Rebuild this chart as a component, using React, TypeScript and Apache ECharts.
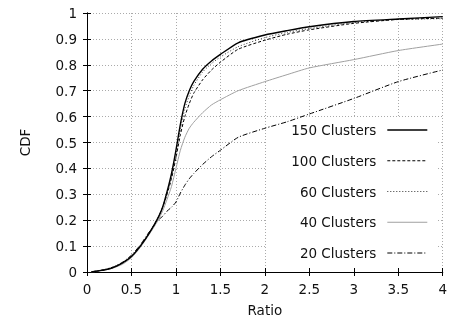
import React, { useEffect, useRef } from "react";
import * as echarts from "echarts";

const ratio = [0.05, 0.1, 0.2, 0.3, 0.4, 0.5, 0.6, 0.7, 0.8, 0.85, 0.9, 0.95, 1.0, 1.05, 1.1, 1.15, 1.2, 1.3, 1.4, 1.5, 1.7, 2.0, 2.25, 2.5, 3.0, 3.5, 4.0];

const cdf150 = [0, 0.003, 0.008, 0.018, 0.035, 0.06, 0.1, 0.15, 0.21, 0.25, 0.31, 0.38, 0.47, 0.57, 0.65, 0.7, 0.735, 0.783, 0.815, 0.84, 0.885, 0.915, 0.932, 0.947, 0.967, 0.977, 0.986];
const cdf100 = [0, 0.003, 0.008, 0.018, 0.035, 0.06, 0.1, 0.15, 0.21, 0.25, 0.3, 0.36, 0.44, 0.53, 0.6, 0.65, 0.69, 0.742, 0.78, 0.81, 0.86, 0.895, 0.918, 0.935, 0.96, 0.975, 0.98];
const cdf60 = [0, 0.003, 0.009, 0.02, 0.037, 0.062, 0.1, 0.15, 0.21, 0.25, 0.3, 0.37, 0.45, 0.55, 0.63, 0.68, 0.72, 0.772, 0.805, 0.83, 0.87, 0.905, 0.925, 0.94, 0.963, 0.975, 0.978];
const cdf40 = [0, 0.002, 0.007, 0.016, 0.03, 0.055, 0.095, 0.145, 0.2, 0.235, 0.28, 0.33, 0.4, 0.47, 0.52, 0.555, 0.578, 0.615, 0.645, 0.665, 0.7, 0.735, 0.762, 0.788, 0.82, 0.855, 0.88];
const cdf20 = [0, 0.004, 0.01, 0.02, 0.038, 0.065, 0.105, 0.155, 0.2, 0.215, 0.235, 0.25, 0.27, 0.305, 0.335, 0.36, 0.38, 0.415, 0.445, 0.47, 0.52, 0.555, 0.58, 0.61, 0.67, 0.735, 0.78];

const seriesNames = ["150 Clusters", "100 Clusters", "60 Clusters", "40 Clusters", "20 Clusters"];

const FONT = "DejaVu Sans";
const FS = 13.5;

export default function App() {
  const ref = useRef<HTMLDivElement>(null);
  useEffect(() => {
    if (!ref.current) return;
    const chart = echarts.init(ref.current, undefined, { renderer: "svg" });
    const pts = (ys: number[]) => ratio.map((x, i) => [x, ys[i]]);
    const styles: any[] = [
      { color: "#000", width: 1.4, type: "solid" },
      { color: "#000", width: 1, type: [3, 2] },
      { color: "#333", width: 1, type: [1, 2] },
      { color: "#a0a0a0", width: 1, type: "solid" },
      { color: "#000", width: 1, type: [5, 2, 1, 2] },
    ];
    const data = [cdf150, cdf100, cdf60, cdf40, cdf20];
    const tick = { show: true, inside: true, length: 4, lineStyle: { color: "#000" } };
    const axisLine = { show: true, lineStyle: { color: "#000", width: 1 } };
    const split = { show: true, lineStyle: { color: "#aaa", type: [1, 2], width: 1 } };
    chart.setOption({
      animation: false,
      textStyle: { fontFamily: FONT },
      grid: { left: 87, right: 5, top: 13, bottom: 49, containLabel: false },
      xAxis: [
        {
          type: "value", min: 0, max: 4, interval: 0.5,
          name: "Ratio", nameLocation: "middle", nameGap: 31,
          nameTextStyle: { fontFamily: FONT, fontSize: FS, color: "#111" },
          axisLine, axisTick: tick, splitLine: split,
          axisLabel: { fontFamily: FONT, fontSize: FS, color: "#111", margin: 10 },
        },
        {
          type: "value", min: 0, max: 4, interval: 0.5, position: "top",
          axisLine, axisTick: tick, splitLine: { show: false }, axisLabel: { show: false },
        },
      ],
      yAxis: [
        {
          type: "value", min: 0, max: 1, interval: 0.1,
          name: "CDF", nameLocation: "middle", nameGap: 55,
          nameTextStyle: { fontFamily: FONT, fontSize: FS, color: "#111" },
          axisLine, axisTick: tick, splitLine: split,
          axisLabel: { fontFamily: FONT, fontSize: FS, color: "#111", margin: 10 },
        },
        {
          type: "value", min: 0, max: 1, interval: 0.1, position: "right",
          axisLine, axisTick: tick, splitLine: { show: false }, axisLabel: { show: false },
        },
      ],
      legend: {
        data: seriesNames.map((n, i) => ({
          name: n,
          lineStyle: { width: styles[i].width, type: styles[i].type, color: styles[i].color },
        })),
        orient: "vertical",
        align: "right",
        right: 17,
        top: 118,
        itemWidth: 40,
        itemHeight: 14,
        itemGap: 16.75,
        itemStyle: { opacity: 0 },
        textStyle: { fontFamily: FONT, fontSize: FS, color: "#111", padding: [0, 6, 0, 0] },
      },
      graphic: [
        {
          type: "rect", z: 1, silent: true,
          shape: { x: 266, y: 117, width: 171, height: 150 },
          style: { fill: "#fff" },
        },
      ],
      series: data.map((d, i) => ({
        name: seriesNames[i],
        type: "line",
        data: pts(d),
        symbol: "none",
        smooth: 0.2,
        lineStyle: styles[i],
        itemStyle: { color: styles[i].color },
        z: 2 + (4 - i) * 0.1,
      })),
    });
    return () => chart.dispose();
  }, []);
  return <div ref={ref} style={{ position: "fixed", left: 0, top: 0, width: 450, height: 322 }} />;
}
